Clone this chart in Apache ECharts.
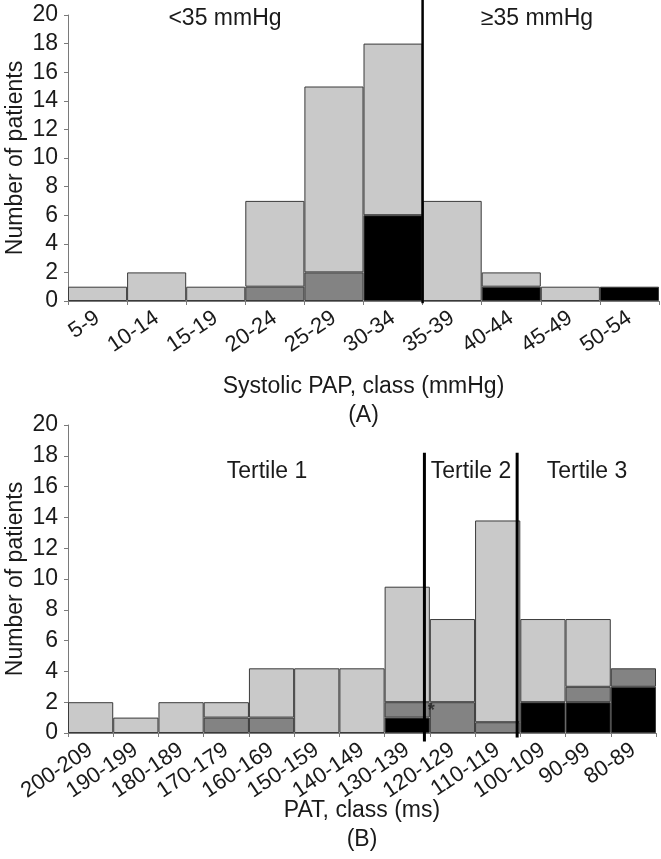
<!DOCTYPE html>
<html>
<head>
<meta charset="utf-8">
<script src="https://cdn.jsdelivr.net/npm/echarts@6/dist/echarts.min.js"></script>
<style>
html,body{margin:0;padding:0;background:#fff;}
#chart{width:661px;height:859px;}
</style>
</head>
<body>
<div id="chart"></div>
<script>
// ---- Panel A: Systolic PAP classes ----
const catsA = ['5-9','10-14','15-19','20-24','25-29','30-34','35-39','40-44','45-49','50-54'];
const blackA = [0, 0, 0, 0, 0, 6, 0, 1, 0, 1];
const darkA  = [0, 0, 0, 1, 2, 0, 0, 0, 0, 0];
const totalA = [1, 2, 1, 7, 15, 18, 7, 2, 1, 1];
const cutA = 6;            // boundary at 35 mmHg (between 30-34 and 35-39)

// ---- Panel B: PAT classes ----
const catsB = ['200-209','190-199','180-189','170-179','160-169','150-159','140-149','130-139','120-129','110-119','100-109','90-99','80-89'];
const blackB = [0, 0, 0, 0, 0, 0, 0, 1, 0, 0, 2, 2, 3];
const darkB  = [0, 0, 0, 1, 1, 0, 0, 1, 2, 0.7, 0, 1, 1.2];
const totalB = [2, 1, 2, 2, 4.2, 4.2, 4.2, 9.5, 7.4, 13.8, 7.4, 7.4, 4.2];
const cutsB = [7.88, 9.93]; // tertile boundaries (in class units)
const starB = [8.03, 1.45];

const yTicks = [0, 20, 2];

const FONT = '"Liberation Sans", Arial, Helvetica, sans-serif';
const FS = 23;
const TXT = '#1a1a1a';
const C_LIGHT = '#c9c9c9', C_DARK = '#838383', C_BLACK = '#000000', C_BORDER = '#3a3a3a';

function toSeries(arr){ return arr.map(v => v > 0 ? v : '-'); }
function lightOf(tot, bl, dk){ return tot.map((t,i)=> Math.round((t - bl[i] - dk[i])*100)/100); }

const lightA = lightOf(totalA, blackA, darkA);
const lightB = lightOf(totalB, blackB, darkB);

function catAxis(grid, cats, name, gap){
  return {
    type:'category', gridIndex:grid, data:cats,
    boundaryGap:true,
    axisLine:{show:true, lineStyle:{color:'#7a7a7a', width:1}},
    axisTick:{show:true, length:4, lineStyle:{color:'#7a7a7a'}},
    axisLabel:{rotate:34, fontSize:22, color:TXT, fontFamily:FONT, margin:15, interval:0},
    name:name, nameLocation:'middle', nameGap:gap, nameMoveOverlap:false,
    nameTextStyle:{fontSize:FS, color:TXT, fontFamily:FONT, lineHeight:29, verticalAlign:'top'}
  };
}
function valAxis(grid){
  return {
    type:'value', gridIndex:grid, min:yTicks[0], max:yTicks[1], interval:yTicks[2],
    splitLine:{show:false},
    axisLine:{show:true, lineStyle:{color:'#7a7a7a', width:1}},
    axisTick:{show:true, length:4, lineStyle:{color:'#7a7a7a'}},
    axisLabel:{fontSize:FS, color:TXT, fontFamily:FONT, margin:10},
    name:'Number of patients', nameLocation:'middle', nameGap:41, nameMoveOverlap:false,
    nameTextStyle:{fontSize:FS, color:TXT, fontFamily:FONT}
  };
}
function hiddenX(grid, n){
  return {type:'value', gridIndex:grid, min:0, max:n, show:false};
}
function bar(name, xi, yi, data, color, stack){
  return {
    name:name, type:'bar', xAxisIndex:xi, yAxisIndex:yi, stack:stack,
    data:toSeries(data), barCategoryGap:'0%', barGap:'0%',
    itemStyle:{color:color, borderColor:C_BORDER, borderWidth:1},
    animation:false, silent:true
  };
}
function vline(xi, yi, x, y0, y1, w){
  return {
    type:'line', xAxisIndex:xi, yAxisIndex:yi, data:[[x,y0],[x,y1]],
    symbol:'none', clip:false, z:10,
    lineStyle:{color:'#000', width:w}, animation:false, silent:true
  };
}
function label(text, x, y){
  return {type:'text', z:20, style:{text:text, x:x, y:y, textAlign:'center', textVerticalAlign:'middle', font:FS+'px '+FONT, fill:TXT}};
}

const chart = echarts.init(document.getElementById('chart'), null, {renderer:'canvas'});
chart.setOption({
  backgroundColor:'#fff',
  grid:[
    {left:68, right:2, top:15, height:286, containLabel:false, outerBoundsMode:'none'},
    {left:68, right:5, top:425, height:308, containLabel:false, outerBoundsMode:'none'}
  ],
  xAxis:[
    catAxis(0, catsA, 'Systolic PAP, class (mmHg)\n(A)', 71),
    catAxis(1, catsB, 'PAT, class (ms)\n(B)', 63),
    hiddenX(0, catsA.length),
    hiddenX(1, catsB.length)
  ],
  yAxis:[valAxis(0), valAxis(1)],
  series:[
    bar('black', 0, 0, blackA, C_BLACK, 'a'),
    bar('dark', 0, 0, darkA, C_DARK, 'a'),
    bar('light', 0, 0, lightA, C_LIGHT, 'a'),
    bar('black', 1, 1, blackB, C_BLACK, 'b'),
    bar('dark', 1, 1, darkB, C_DARK, 'b'),
    bar('light', 1, 1, lightB, C_LIGHT, 'b'),
    vline(2, 0, cutA, -0.15, 21.1, 2.5),
    vline(3, 1, cutsB[0], -0.55, 18.2, 3),
    vline(3, 1, cutsB[1], -0.3, 18.2, 3),
    {
      type:'scatter', xAxisIndex:3, yAxisIndex:1, data:[starB], symbolSize:0, z:11,
      label:{show:true, formatter:'*', position:'inside', fontSize:18, fontWeight:'bold', color:'#222', fontFamily:FONT},
      animation:false, silent:true
    }
  ],
  graphic:[
    label('<35 mmHg', 225, 19),
    label('≥35 mmHg', 537, 19),
    label('Tertile 1', 267, 472),
    label('Tertile 2', 471, 472),
    label('Tertile 3', 587, 472)
  ]
});
</script>
</body>
</html>
